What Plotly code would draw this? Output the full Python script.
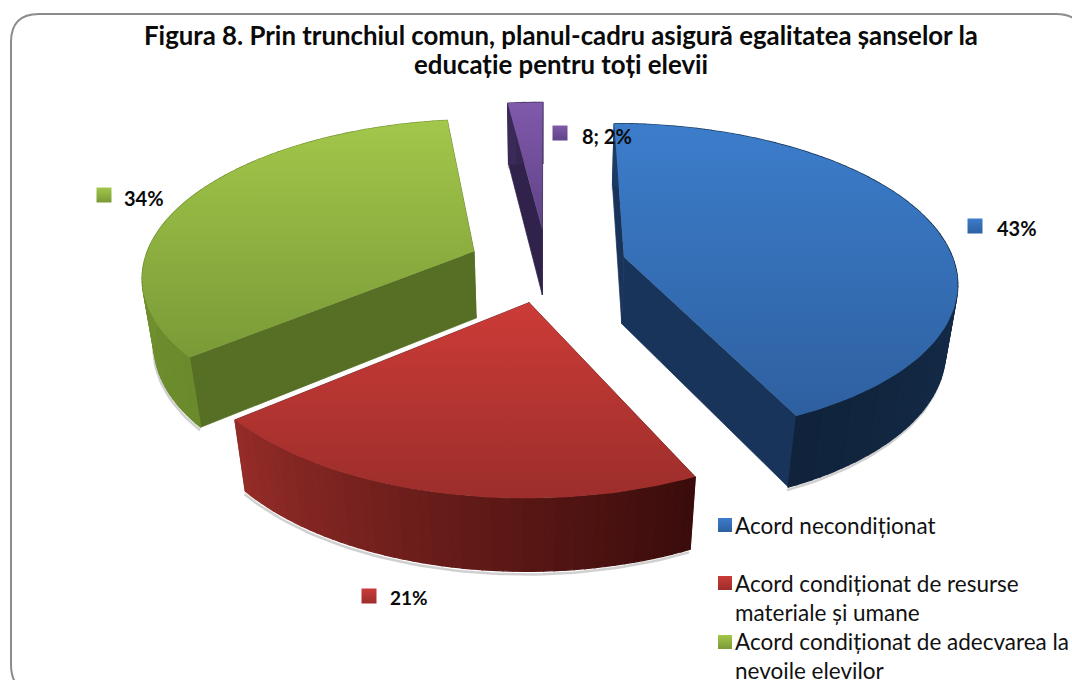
import numpy as np
import plotly.graph_objects as go

# ---- data ----
categories = ["Acord necondiționat", "Acord condiționat de resurse<br>materiale și umane",
              "Acord condiționat de adecvarea la<br>nevoile elevilor", "Altele"]
shares = [43, 21, 34, 2]
data_labels = ["43%", "21%", "34%", "8; 2%"]
title_lines = ["Figura 8. Prin trunchiul comun, planul-cadru asigură egalitatea șanselor la",
               "educație pentru toți elevii"]

# ---- styles ----
top_colors = [("#3c7dcb", "#2e60a0"), ("#cc3b37", "#9c2e2b"), ("#a2c74a", "#7a9a37"), ("#8059ab", "#5f4387")]
wall_colors = [("#1d3c64", "#10233b"), ("#3a0c0b", "#942c28"), ("#6a8a2c", "#7f9f3a"), ("#3a2a58", "#2c2145")]
cut_colors = ["#18345a", "#5d1a18", "#566f24", "#30224a"]

# projection of the tilted pie
CX, CY, A, B, K, H, M, EXPLODE = 547, 265, 331, 155, 0.146, 69, 0.03, 0.24


def project(X, Y, Z=0.0):
    X, Y = np.asarray(X, float), np.asarray(Y, float)
    w = 1 + K * Y + M * Z
    return CX + A * X / w, CY - B * Y / w + H * Z / w


def lerp(c1, c2, t):
    a = np.array([int(c1[i:i + 2], 16) for i in (1, 3, 5)])
    b = np.array([int(c2[i:i + 2], 16) for i in (1, 3, 5)])
    v = (a + (b - a) * t).round().astype(int)
    return "rgb(%d,%d,%d)" % tuple(v)


fig = go.Figure()


def poly(x, y, color, lw=0.7):
    fig.add_trace(go.Scatter(x=list(x), y=list(y), mode="lines", fill="toself", fillcolor=color,
                             line=dict(color=color, width=lw), hoverinfo="skip", showlegend=False))


def draw_slice(i, a0, a1):
    mid = (a0 + a1) / 2
    ox, oy = EXPLODE * np.sin(mid), EXPLODE * np.cos(mid)
    th = np.linspace(a0, a1, max(int((a1 - a0) / np.radians(1.5)), 3) + 1)
    rx, ry = ox + np.sin(th), oy + np.cos(th)

    # soft shadow under the outer wall
    sx, sy = project(rx, ry, 1.03)
    fig.add_trace(go.Scatter(x=sx - 1, y=sy + 1, mode="lines", line=dict(color="rgba(120,120,120,0.35)", width=2.5),
                             hoverinfo="skip", showlegend=False))

    # two cut faces
    for ang in (a1, a0):
        ex, ey = ox + np.sin(ang), oy + np.cos(ang)
        xs0, ys0 = project([ox, ex], [oy, ey], 0)
        xs1, ys1 = project([ox, ex], [oy, ey], 1)
        poly([xs0[0], xs0[1], xs1[1], xs1[0], xs0[0]], [ys0[0], ys0[1], ys1[1], ys1[0], ys0[0]], cut_colors[i])

    # outer wall as narrow shaded strips
    for j in range(len(th) - 1):
        x0, y0 = project(rx[j:j + 2], ry[j:j + 2], 0)
        x1, y1 = project(rx[j:j + 2], ry[j:j + 2], 1)
        poly([x0[0], x0[1], x1[1], x1[0], x0[0]], [y0[0], y0[1], y1[1], y1[0], y0[0]],
             lerp(wall_colors[i][0], wall_colors[i][1], j / max(len(th) - 2, 1)), lw=1.3)

    # top face
    tx, ty = project(np.r_[ox, rx, ox], np.r_[oy, ry, oy], 0)
    fig.add_trace(go.Scatter(x=tx, y=ty, mode="lines", fill="toself", line=dict(width=0),
                             fillgradient=dict(type="vertical",
                                               colorscale=[[0, top_colors[i][1]], [1, top_colors[i][0]]]),
                             hoverinfo="skip", showlegend=False))


fracs = np.array(shares) / sum(shares)
ends = np.cumsum(fracs) * 2 * np.pi
starts = np.r_[0, ends[:-1]]
for i in (3, 2, 0, 1):  # back to front
    draw_slice(i, starts[i], ends[i])

# data labels (swatch + text)
label_swatch_x = [975, 369, 104, 560]
label_swatch_y = [226, 596, 195, 133]
label_text_x = [995, 388, 122, 580]
label_text_y = [228, 597, 198, 136]
label_sizes = [20, 19, 20, 20]
legend_swatch_y = [525, 583, 642, 0]
legend_text_y = [525, 597.5, 656, 0]


def swatch(x, y, i, size):
    fig.add_trace(go.Scatter(x=[x], y=[y], mode="markers", hoverinfo="skip", showlegend=False,
                             marker=dict(symbol="square", size=size, color=top_colors[i][0],
                                         line=dict(width=0),
                                         gradient=dict(type="vertical", color=top_colors[i][1]))))


annotations = []
for i in range(4):
    swatch(label_swatch_x[i], label_swatch_y[i], i, 15)
    annotations.append(dict(x=label_text_x[i], y=label_text_y[i], text="<b>%s</b>" % data_labels[i], xref="x", yref="y",
                            xanchor="left", yanchor="middle", showarrow=False,
                            font=dict(family="Lato", size=label_sizes[i], color="#0a0a0a")))
for i in range(3):
    swatch(725, legend_swatch_y[i], i, 14)
    annotations.append(dict(x=733, y=legend_text_y[i], text=categories[i], xref="x", yref="y", xanchor="left",
                            yanchor="middle", align="left", showarrow=False,
                            font=dict(family="Lato", size=22.5, color="#111111")))
for line, y in zip(title_lines, (35, 64)):
    annotations.append(dict(x=561, y=y, text="<b>%s</b>" % line, xref="x", yref="y", xanchor="center",
                            yanchor="middle", align="center", showarrow=False,
                            font=dict(family="Lato", size=25.8, color="#0a0a0a")))

frame = "M 36 692 Q 11 692 11 664 L 11 42 Q 11 14 39 14 L 1056 14 Q 1084 14 1084 42 L 1084 664 Q 1084 692 1056 692 Z"
fig.update_layout(
    width=1072, height=680, margin=dict(l=0, r=0, t=0, b=0), paper_bgcolor="white", plot_bgcolor="white",
    showlegend=False, annotations=annotations,
    xaxis=dict(range=[0, 1072], visible=False, fixedrange=True),
    yaxis=dict(range=[680, 0], visible=False, fixedrange=True),
    shapes=[dict(type="path", path=frame, xref="x", yref="y", line=dict(color="#8c8c8c", width=2),
                 fillcolor="white", layer="below")],
)
fig.write_html("out.html", config={"displayModeBar": False},
               post_script="document.body.style.margin='0';document.body.style.overflow='hidden';")
